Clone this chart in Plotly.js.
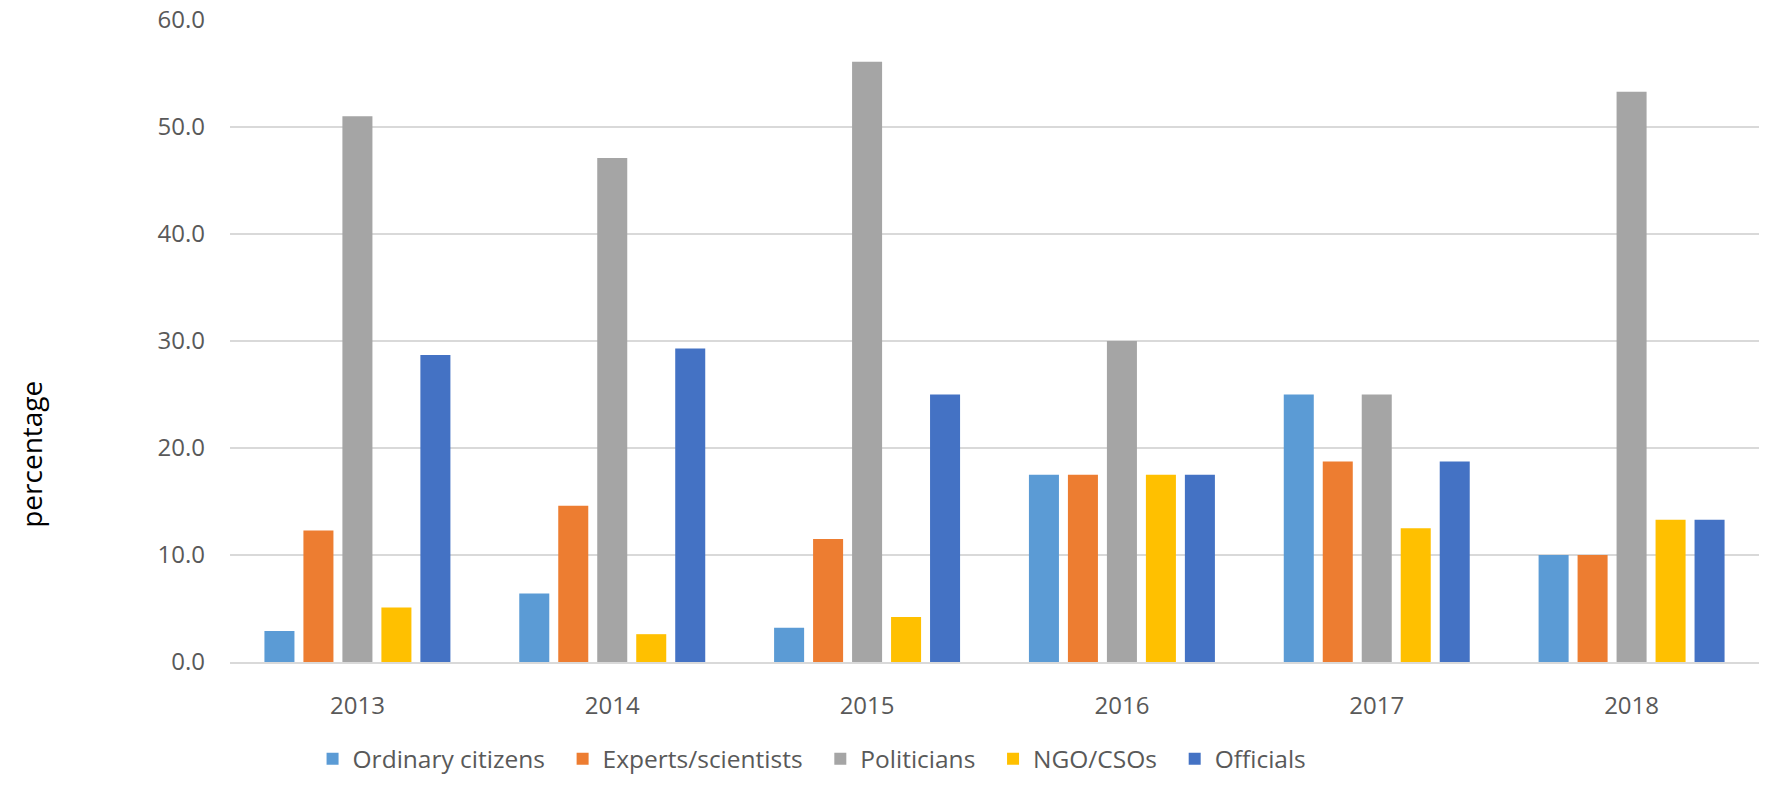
<!DOCTYPE html>
<html>
<head>
<meta charset="utf-8">
<script src="https://cdn.plot.ly/plotly-3.0.1.min.js"></script>
<style>html,body{margin:0;padding:0;background:#fff;}#chart{width:1765px;height:787px;}</style>
</head>
<body>
<div id="chart"></div>
<script>
var years = ['2013', '2014', '2015', '2016', '2017', '2018'];
var ordinaryCitizens = [2.9, 6.4, 3.2, 17.5, 25.0, 10.0];
var expertsScientists = [12.3, 14.6, 11.5, 17.5, 18.75, 10.0];
var politicians = [51.0, 47.1, 56.1, 30.0, 25.0, 53.3];
var ngoCsos = [5.1, 2.6, 4.2, 17.5, 12.5, 13.3];
var officials = [28.7, 29.3, 25.0, 17.5, 18.75, 13.3];
var seriesNames = ['Ordinary citizens', 'Experts/scientists', 'Politicians', 'NGO/CSOs', 'Officials'];
var seriesColors = ['#5B9BD5', '#ED7D31', '#A5A5A5', '#FFC000', '#4472C4'];
var seriesValues = [ordinaryCitizens, expertsScientists, politicians, ngoCsos, officials];

var FONT = 'Open Sans, Lato, sans-serif';
var PAD = '\u00a0\u00a0';
var traces = seriesValues.map(function (vals, i) {
  return {
    type: 'bar', x: years, y: vals, name: seriesNames[i] + PAD,
    marker: {color: seriesColors[i]},
    hoverinfo: 'x+y+name'
  };
});

var layout = {
  width: 1765, height: 787,
  margin: {l: 230, r: 6, t: 20, b: 120},
  paper_bgcolor: '#ffffff', plot_bgcolor: '#ffffff',
  barmode: 'group', bargap: 0.235, bargroupgap: 0.23,
  font: {family: FONT, color: '#595959', size: 24},
  xaxis: {
    type: 'category', showgrid: false, showline: true, linecolor: '#D9D9D9', linewidth: 1.5,
    ticks: '', ticklen: 0, tickfont: {size: 24, color: '#595959'}, zeroline: false,
    ticklabelstandoff: 22
  },
  yaxis: {
    range: [0, 60], dtick: 10, tickformat: '.1f', showgrid: true, gridcolor: '#D9D9D9', gridwidth: 1.5,
    zeroline: false, showline: false, ticks: '', tickfont: {size: 24, color: '#595959'},
    ticklabelstandoff: 24
  },
  showlegend: true,
  legend: {
    orientation: 'h', x: 0.054, xanchor: 'left', y: -0.151, yanchor: 'middle',
    font: {size: 24.5, color: '#595959'}, itemwidth: 30, tracegroupgap: 0, traceorder: 'normal'
  },
  annotations: [{
    text: 'percentage', xref: 'paper', yref: 'paper', x: -0.1307, y: 0.323,
    xanchor: 'center', yanchor: 'middle', textangle: -90, showarrow: false,
    font: {size: 28, color: '#000000', family: FONT}
  }]
};

Plotly.newPlot('chart', traces, layout, {displayModeBar: false, staticPlot: true});
</script>
</body>
</html>
